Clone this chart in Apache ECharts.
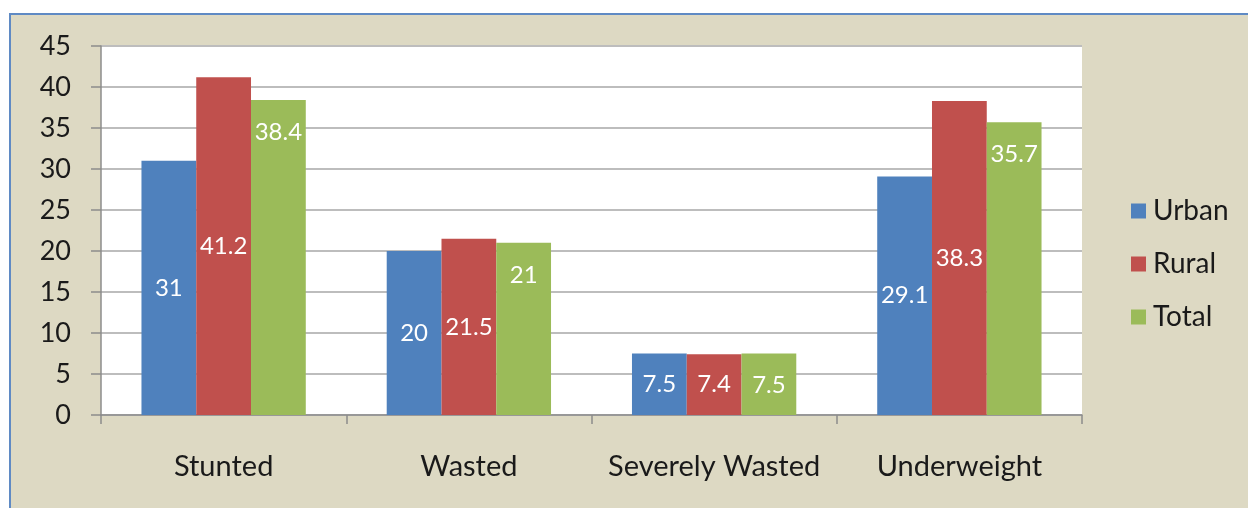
<!DOCTYPE html>
<html>
<head>
<meta charset="utf-8">
<script src="https://cdn.jsdelivr.net/npm/echarts@6/dist/echarts.min.js"></script>
<style>
    html, body { margin: 0; padding: 0; background: #fff; }
    #main {
        position: absolute; left: 9px; top: 13px; width: 1239px; height: 495px;
        box-sizing: border-box; border-top: 2px solid #5f8ac4; border-left: 2px solid #5f8ac4;
        background: #ddd9c3;
    }
</style>
</head>
<body>
<div id="main"></div>
<script>
    const categories = ['Stunted', 'Wasted', 'Severely Wasted', 'Underweight']
    const urban = [31, 20, 7.5, 29.1]
    const rural = [41.2, 21.5, 7.4, 38.3]
    const total = [38.4, 21, 7.5, 35.7]
    const seriesNames = ['Urban', 'Rural', 'Total']
    const colors = ['#4f81bd', '#c0504d', '#9bbb59']

    const font = 'Lato, "Open Sans", sans-serif'

    let chart = echarts.init(document.getElementById('main'))

    const barLabel = (pos, dist) => ({
        show: true,
        position: pos,
        distance: dist,
        color: '#fff',
        fontFamily: font,
        fontSize: 24
    })

    let option = {
        animation: false,
        color: colors,
        grid: {
            left: 90,
            top: 31,
            width: 981,
            height: 369,
            show: true,
            backgroundColor: '#fff',
            borderWidth: 0
        },
        legend: {
            orient: 'vertical',
            left: 1115,
            top: 177,
            icon: 'rect',
            itemWidth: 15,
            itemHeight: 15,
            itemGap: 25,
            textStyle: { fontFamily: font, fontSize: 28, color: '#1a1a1a', padding: [0, 0, 0, 2] },
            data: seriesNames
        },
        xAxis: {
            type: 'category',
            data: categories,
            axisLine: { lineStyle: { color: '#8c8c8c', width: 1.5 } },
            axisTick: { show: true, length: 9, lineStyle: { color: '#8c8c8c', width: 1.5 } },
            axisLabel: { interval: 0, margin: 37, fontFamily: font, fontSize: 29, color: '#1a1a1a' }
        },
        yAxis: {
            type: 'value',
            min: 0,
            max: 45,
            interval: 5,
            axisLine: { show: true, lineStyle: { color: '#8c8c8c', width: 1.5 } },
            axisTick: { show: true, length: 10, lineStyle: { color: '#8c8c8c', width: 1.5 } },
            axisLabel: { margin: 30, fontFamily: font, fontSize: 27, color: '#1a1a1a' },
            splitLine: { lineStyle: { color: '#bdbdbd', width: 2 } }
        },
        series: [
            { name: 'Urban', type: 'bar', data: urban, barGap: '0%', barCategoryGap: '33%', label: barLabel('inside', 5) },
            { name: 'Rural', type: 'bar', data: rural, barGap: '0%', barCategoryGap: '33%', label: barLabel('inside', 5) },
            { name: 'Total', type: 'bar', data: total, barGap: '0%', barCategoryGap: '33%', label: barLabel('insideTop', 20) }
        ]
    }

    chart.setOption(option)
    window.addEventListener('resize', () => { chart.resize() })
</script>
</body>
</html>
